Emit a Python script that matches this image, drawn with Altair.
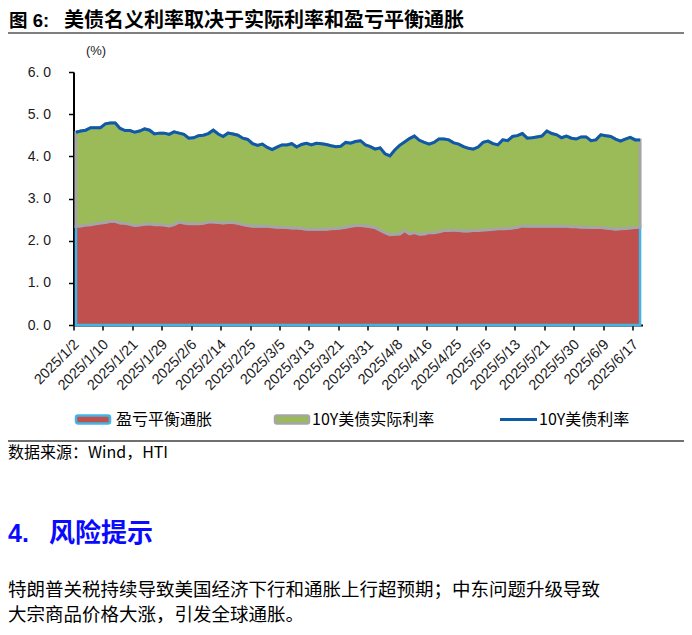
import json
import altair as alt
import pandas as pd

# ---------------- data ----------------
holidays = ["2025-01-20", "2025-02-17", "2025-04-18", "2025-05-26"]
days = [d for d in pd.bdate_range("2025-01-02", "2025-06-18")
        if d.strftime("%Y-%m-%d") not in holidays]
dates = [f"{d.year}/{d.month}/{d.day}" for d in days]

# 10Y US Treasury yield (%)
nominal = [
    4.57, 4.60, 4.62, 4.68, 4.68, 4.68, 4.77, 4.79, 4.79, 4.66,
    4.61, 4.61, 4.57, 4.60, 4.65, 4.62, 4.53, 4.55, 4.55, 4.52,
    4.58, 4.55, 4.52, 4.43, 4.44, 4.49, 4.50, 4.54, 4.62, 4.53,
    4.47, 4.55, 4.53, 4.50, 4.43, 4.40, 4.30, 4.26, 4.29, 4.21,
    4.16, 4.22, 4.27, 4.27, 4.30, 4.22, 4.28, 4.31, 4.27, 4.31,
    4.30, 4.28, 4.25, 4.23, 4.24, 4.33, 4.31, 4.35, 4.37, 4.27,
    4.23, 4.17, 4.20, 4.06, 4.01, 4.15, 4.26, 4.34, 4.42, 4.48,
    4.38, 4.33, 4.29, 4.33, 4.41, 4.41, 4.39, 4.32, 4.29, 4.23,
    4.19, 4.17, 4.22, 4.33, 4.36, 4.30, 4.27, 4.39, 4.37, 4.47,
    4.49, 4.54, 4.43, 4.44, 4.46, 4.48, 4.60, 4.54, 4.51, 4.44,
    4.48, 4.43, 4.41, 4.46, 4.46, 4.37, 4.39, 4.51, 4.49, 4.47,
    4.41, 4.36, 4.41, 4.45, 4.39, 4.39,
]

# break-even inflation (%)
breakeven = [
    2.34, 2.35, 2.37, 2.38, 2.40, 2.42, 2.43, 2.46, 2.46, 2.42,
    2.41, 2.39, 2.36, 2.37, 2.39, 2.40, 2.38, 2.38, 2.37, 2.35,
    2.38, 2.44, 2.42, 2.40, 2.40, 2.40, 2.41, 2.44, 2.44, 2.43,
    2.42, 2.43, 2.43, 2.41, 2.38, 2.36, 2.34, 2.34, 2.35, 2.34,
    2.33, 2.32, 2.32, 2.31, 2.30, 2.30, 2.29, 2.27, 2.27, 2.27,
    2.27, 2.27, 2.28, 2.29, 2.30, 2.32, 2.34, 2.36, 2.36, 2.35,
    2.33, 2.31, 2.25, 2.19, 2.14, 2.15, 2.16, 2.24, 2.16, 2.19,
    2.15, 2.16, 2.19, 2.19, 2.21, 2.24, 2.24, 2.25, 2.24, 2.23,
    2.23, 2.24, 2.24, 2.25, 2.26, 2.27, 2.28, 2.28, 2.29, 2.30,
    2.32, 2.35, 2.34, 2.34, 2.34, 2.34, 2.35, 2.34, 2.34, 2.34,
    2.34, 2.33, 2.33, 2.32, 2.32, 2.31, 2.31, 2.31, 2.30, 2.29,
    2.27, 2.28, 2.29, 2.30, 2.31, 2.32,
]

tick_labels = [
    "2025/1/2", "2025/1/10", "2025/1/21", "2025/1/29", "2025/2/6",
    "2025/2/14", "2025/2/25", "2025/3/5", "2025/3/13", "2025/3/21",
    "2025/3/31", "2025/4/8", "2025/4/16", "2025/4/25", "2025/5/5",
    "2025/5/13", "2025/5/21", "2025/5/30", "2025/6/9", "2025/6/17",
]
y_ticks = [0, 1, 2, 3, 4, 5, 6]
series_names = ["盈亏平衡通胀", "10Y美债实际利率", "10Y美债利率"]

title_prefix = "图 6:"
title_text = "美债名义利率取决于实际利率和盈亏平衡通胀"
unit_text = "(%)"
source_text = "数据来源：Wind，HTI"
heading_num = "4."
heading_text = "风险提示"
para_lines = [
    "特朗普关税持续导致美国经济下行和通胀上行超预期；中东问题升级导致",
    "大宗商品价格大涨，引发全球通胀。",
]

df = pd.DataFrame({
    "i": list(range(len(dates))),
    "date": dates,
    "nominal": nominal,
    "breakeven": breakeven,
})

# ---------------- styling ----------------
RED, GREEN, BLUE = "#C0504D", "#9BBB59", "#0E5AA7"
CYAN, GRAY = "#41B6E6", "#A5A5A5"
CJK = "Noto Sans CJK SC"
NUM = "Liberation Sans"
MIX = "Liberation Sans, Noto Sans CJK SC"

W, H = 569, 253

tick_vals = [dates.index(t) - 0.5 for t in tick_labels]
x_label_expr = f"{json.dumps(tick_labels, ensure_ascii=False)}[indexof({json.dumps(tick_vals)}, datum.value)]"

x_axis = alt.Axis(
    values=tick_vals, labelExpr=x_label_expr, labelAngle=-45,
    labelAlign="right", labelBaseline="middle", labelOverlap=False,
    labelFlush=False, labelBound=False, labelPadding=12, labelOffset=3,
    tickSize=5, tickWidth=1.5, tickColor="#000", domainColor="#000",
    domainWidth=2, grid=False, title=None, labelFont=NUM,
    labelFontSize=14.5, labelColor="#1a1a1a",
)
y_axis = alt.Axis(
    values=y_ticks, labelExpr="replace(format(datum.value, '.1f'), '.', '. ')",
    tickSize=5, tickWidth=1.5, tickColor="#000", domainColor="#000",
    domainWidth=2, grid=False, title=None, labelFont=NUM, labelFontSize=14,
    labelPadding=18, labelColor="#1a1a1a",
)
x_scale = alt.Scale(domain=[-0.5, len(dates) - 0.5], nice=False, zero=False)
y_scale = alt.Scale(domain=[0, 6], nice=False)

X = alt.X("i:Q", scale=x_scale, axis=x_axis)

base = alt.Chart(df)
red_area = base.mark_area(fill=RED, stroke=CYAN, strokeWidth=2.5).encode(
    x=X, y=alt.Y("breakeven:Q", scale=y_scale, axis=y_axis))
green_area = base.mark_area(fill=GREEN, stroke=GRAY, strokeWidth=3).encode(
    x=X, y=alt.Y("nominal:Q", scale=y_scale, axis=y_axis), y2="breakeven:Q")
line = base.mark_line(color=BLUE, strokeWidth=3).encode(
    x=X, y=alt.Y("nominal:Q", scale=y_scale, axis=y_axis))

# page -> chart coordinates (plot origin at page 73.5, 72)
OX, OY = 73.5, 72


def txt(s, px, py, size, color="#000", weight="normal", font=CJK, align="left"):
    return alt.Chart(pd.DataFrame({"t": [s]})).mark_text(
        align=align, baseline="middle", fontSize=size, font=font,
        fontWeight=weight, color=color,
    ).encode(x=alt.value(px - OX), y=alt.value(py - OY), text="t:N")


def hrule(px1, px2, py, color, width):
    return alt.Chart(pd.DataFrame({"a": [0]})).mark_rule(
        color=color, strokeWidth=width).encode(
        x=alt.value(px1 - OX), x2=alt.value(px2 - OX), y=alt.value(py - OY))


def swatch(px1, px2, py1, py2, fill, stroke):
    return alt.Chart(pd.DataFrame({"a": [0]})).mark_rect(
        fill=fill, stroke=stroke, strokeWidth=2.5, cornerRadius=2).encode(
        x=alt.value(px1 - OX), x2=alt.value(px2 - OX),
        y=alt.value(py1 - OY), y2=alt.value(py2 - OY))


decor = [
    txt(title_prefix, 9, 21, 18.5, weight="bold", font=MIX),
    txt(title_text, 64, 21, 20, weight="bold", font=MIX),
    hrule(8, 690, 33, "#7F7F7F", 2),
    txt(unit_text, 96, 51, 13, font=NUM, align="center", color="#1a1a1a"),
    swatch(76, 110, 415.5, 423.5, RED, CYAN),
    txt(series_names[0], 116, 419.5, 16),
    swatch(275, 309, 415.5, 423.5, GREEN, GRAY),
    txt(series_names[1], 312, 419.5, 16),
    hrule(500, 537, 419.5, BLUE, 3),
    txt(series_names[2], 539, 419.5, 16),
    hrule(8, 690, 441, "#404040", 1.5),
    txt(source_text, 8, 453, 16),
    txt(heading_num, 8, 534, 25, color="#0A0AFF", weight="bold", font=NUM),
    txt(heading_text, 49, 534, 26, color="#0A0AFF", weight="bold"),
    txt(para_lines[0], 8, 589.5, 18.5),
    txt(para_lines[1], 8, 615, 18.5),
]

chart = alt.layer(red_area, green_area, line, *decor).properties(
    width=W, height=H,
    padding={"left": 65.5, "top": 64, "right": 41.5, "bottom": 302},
    autosize=alt.AutoSizeParams(type="none"),
).configure_view(stroke=None)

chart.save("out.html", embed_options={"renderer": "svg", "actions": False})
